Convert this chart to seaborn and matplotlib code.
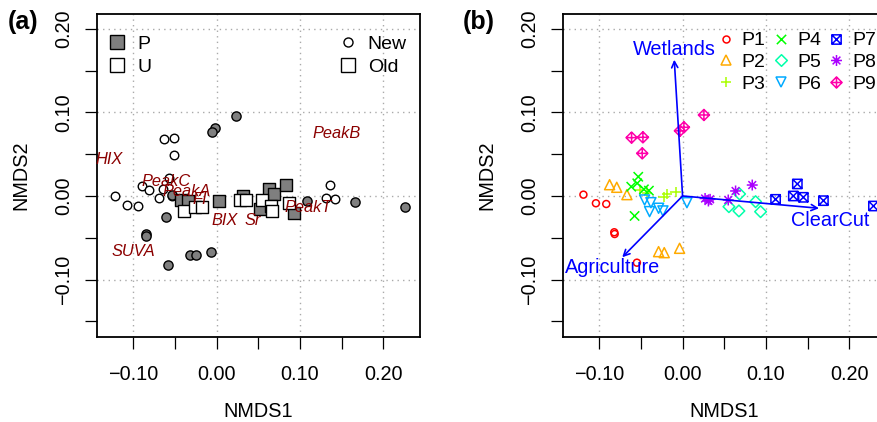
import numpy as np
import pandas as pd
import matplotlib
matplotlib.use("Agg")
import matplotlib.pyplot as plt
import seaborn as sns
from matplotlib.path import Path
from matplotlib.lines import Line2D
from matplotlib.ticker import FixedLocator, FuncFormatter

# ---------------- Panel (a) data ----------------
pnew_x = [0.0228, -0.0024, -0.0060, -0.0612, -0.0850, -0.0844, -0.0580, -0.0316, -0.0244, -0.0072, -0.0536, 0.1080, 0.1657, 0.2265]
pnew_y = [0.0953, 0.0810, 0.0766, -0.0251, -0.0450, -0.0475, -0.0830, -0.0706, -0.0706, -0.0674, 0.0010, -0.0056, -0.0070, -0.0135]
unew_x = [-0.0636, -0.0510, -0.0510, -0.1220, -0.1070, -0.0940, -0.0900, -0.0816, -0.0690, -0.0576, -0.0640, -0.0540, 0.1357, 0.1310, 0.1420]
unew_y = [0.0680, 0.0690, 0.0490, 0.0000, -0.0110, -0.0120, 0.0120, 0.0075, -0.0020, 0.0220, 0.0080, 0.0000, 0.0130, -0.0020, -0.0040]
pold_x = [-0.0430, -0.0340, 0.0030, 0.0316, 0.0516, 0.0630, 0.0688, 0.0830, 0.0930]
pold_y = [-0.0050, -0.0060, -0.0064, 0.0004, -0.0155, 0.0078, 0.0024, 0.0128, -0.0205]
uold_x = [-0.0390, -0.0264, -0.0180, 0.0284, 0.0356, 0.0544, 0.0656, 0.0660, 0.0868]
uold_y = [-0.0180, -0.0135, -0.0135, -0.0050, -0.0050, -0.0050, -0.0116, -0.0176, -0.0080]

var_names = ["HIX", "PeakB", "PeakC", "PeakA", "FI", "BIX", "Sr", "PeakT", "SUVA"]
var_x = [-0.1284, 0.1440, -0.0600, -0.0356, -0.0204, 0.0092, 0.0436, 0.1104, -0.0996]
var_y = [0.0440, 0.0750, 0.0171, 0.0052, -0.0048, -0.0295, -0.0295, -0.0132, -0.0666]

# ---------------- Panel (b) data ----------------
groups = ["P1", "P2", "P3", "P4", "P5", "P6", "P7", "P8", "P9"]
b_x = {
    "P1": [-0.1190, -0.1040, -0.0916, -0.0820, -0.0815, -0.0548],
    "P2": [-0.0876, -0.0790, -0.0668, -0.0288, -0.0220, -0.0036],
    "P3": [-0.0508, -0.0428, -0.0228, -0.0184, -0.0084],
    "P4": [-0.0532, -0.0544, -0.0616, -0.0464, -0.0404, -0.0576],
    "P5": [0.0684, 0.0556, 0.0676, 0.0876, 0.0936],
    "P6": [-0.0456, -0.0380, -0.0396, -0.0288, -0.0236, 0.0052],
    "P7": [0.1116, 0.1377, 0.1329, 0.1449, 0.1690, 0.2290],
    "P8": [0.0270, 0.0310, 0.0330, 0.0548, 0.0636, 0.0836],
    "P9": [-0.0612, -0.0476, -0.0484, -0.0032, 0.0016, 0.0256],
}
b_y = {
    "P1": [0.0016, -0.0087, -0.0096, -0.0434, -0.0455, -0.0798],
    "P2": [0.0135, 0.0104, 0.0016, -0.0666, -0.0678, -0.0626],
    "P3": [0.0072, 0.0040, -0.0016, 0.0020, 0.0050],
    "P4": [0.0230, 0.0152, 0.0111, 0.0080, 0.0064, -0.0239],
    "P5": [0.0024, -0.0128, -0.0179, -0.0068, -0.0188],
    "P6": [-0.0048, -0.0080, -0.0187, -0.0147, -0.0179, -0.0080],
    "P7": [-0.0040, 0.0144, 0.0000, -0.0016, -0.0056, -0.0120],
    "P8": [-0.0030, -0.0060, -0.0040, -0.0048, 0.0060, 0.0131],
    "P9": [0.0698, 0.0702, 0.0510, 0.0780, 0.0822, 0.0969],
}
group_colors = ["#FF0000", "#FFAA00", "#AAFF00", "#00FF00", "#00FFAA",
                "#00AAFF", "#0000FF", "#AA00FF", "#FF00AA"]

env_names = ["Wetlands", "Agriculture", "ClearCut"]
env_x = [-0.0100, -0.0724, 0.1637]
env_y = [0.1630, -0.0733, -0.0147]
env_lab_x = [-0.0104, -0.0844, 0.1777]
env_lab_y = [0.1755, -0.0850, -0.0295]

# ---------------- custom markers ----------------
M, L, C = Path.MOVETO, Path.LINETO, Path.CLOSEPOLY
plus_m = Path([(-1, 0), (1, 0), (0, -1), (0, 1)], [M, L, M, L])
x_m = Path([(-1, -1), (1, 1), (-1, 1), (1, -1)], [M, L, M, L])
diam_m = Path([(0, -1), (1, 0), (0, 1), (-1, 0), (0, -1)], [M, L, L, L, C])
sqx_m = Path([(-1, -1), (1, -1), (1, 1), (-1, 1), (-1, -1), (-1, -1), (1, 1), (-1, 1), (1, -1)],
             [M, L, L, L, C, M, L, M, L])
r = 0.7071
ast_m = Path([(-1, 0), (1, 0), (0, -1), (0, 1), (-r, -r), (r, r), (-r, r), (r, -r)],
             [M, L, M, L, M, L, M, L])
dplus_m = Path([(0, -1), (1, 0), (0, 1), (-1, 0), (0, -1), (-1, 0), (1, 0), (0, -1), (0, 1)],
               [M, L, L, L, C, M, L, M, L])
group_markers = ["o", "^", plus_m, x_m, diam_m, "v", sqx_m, ast_m, dplus_m]
group_sizes = [25, 52, 55, 45, 70, 52, 45, 62, 64]

# ---------------- style ----------------
sns.set_style("white")
plt.rcParams["font.family"] = ["Liberation Sans", "DejaVu Sans"]
plt.rcParams["axes.unicode_minus"] = True
for k in ["text.color", "axes.labelcolor", "xtick.color", "ytick.color"]:
    plt.rcParams[k] = "black"

FS = 14.3
W, H = 878, 422
fig = plt.figure(figsize=(W / 100, H / 100), dpi=100)
xlim = (-0.1435, 0.2441)
ylim = (-0.1687, 0.2177)


def add_axes(left_px):
    return fig.add_axes([left_px / W, (H - 337) / H, 323 / W, 323 / H])


def style_axes(ax):
    ax.set_xlim(*xlim)
    ax.set_ylim(*ylim)
    ax.xaxis.set_major_locator(FixedLocator([-0.1, 0.0, 0.1, 0.2]))
    ax.xaxis.set_minor_locator(FixedLocator([-0.05, 0.05, 0.15]))
    ax.yaxis.set_major_locator(FixedLocator([-0.1, 0.0, 0.1, 0.2]))
    ax.yaxis.set_minor_locator(FixedLocator([-0.15, -0.05, 0.05, 0.15]))
    fmt = FuncFormatter(lambda v, p: ("%.2f" % v).replace("-", "\u2212"))
    ax.xaxis.set_major_formatter(fmt)
    ax.yaxis.set_major_formatter(fmt)
    ax.tick_params(which="both", direction="out", length=8.5, width=0.9,
                   color="black", labelsize=FS, labelcolor="black", bottom=True, left=True)
    ax.tick_params(axis="x", which="major", pad=12)
    ax.tick_params(axis="y", which="major", pad=8.5, labelrotation=90)
    for lab in ax.get_yticklabels():
        lab.set_va("center")
    ax.grid(True, which="major", linestyle=(0, (1, 3)), color="#aaaaaa", linewidth=1.0)
    ax.set_axisbelow(True)
    for s in ax.spines.values():
        s.set_color("black")
        s.set_linewidth(1.3)
    ax.set_xlabel("NMDS1", fontsize=FS, color="black")
    ax.set_ylabel("NMDS2", fontsize=FS, color="black")
    ax.xaxis.set_label_coords(0.5, -0.2)
    ax.yaxis.set_label_coords(-0.205, 0.5)


# ---------------- Panel (a) ----------------
axa = add_axes(97)
style_axes(axa)
grey = "#7f7f7f"
sns.scatterplot(x=unew_x, y=unew_y, ax=axa, marker="o", s=38, facecolor="white",
                edgecolor="black", linewidth=1.0, zorder=3)
sns.scatterplot(x=pnew_x, y=pnew_y, ax=axa, marker="o", s=44, facecolor=grey,
                edgecolor="black", linewidth=1.0, zorder=3)
sns.scatterplot(x=pold_x, y=pold_y, ax=axa, marker="s", s=81, facecolor=grey,
                edgecolor="black", linewidth=1.0, zorder=4)
sns.scatterplot(x=uold_x, y=uold_y, ax=axa, marker="s", s=81, facecolor="white",
                edgecolor="black", linewidth=1.0, zorder=4)
for n, x, y in zip(var_names, var_x, var_y):
    axa.text(x, y, n, color="#8B0000", fontsize=11.8, fontstyle="italic",
             ha="center", va="center", zorder=6)

LFS = 14
h1 = [Line2D([], [], marker="s", linestyle="none", markersize=9.5, markerfacecolor=grey,
             markeredgecolor="black", markeredgewidth=1.0, label="P"),
      Line2D([], [], marker="s", linestyle="none", markersize=9.5, markerfacecolor="white",
             markeredgecolor="black", markeredgewidth=1.0, label="U")]
leg1 = axa.legend(handles=h1, loc="upper left", bbox_to_anchor=(0.041, 0.935), frameon=False,
                  fontsize=LFS, handlelength=0.7, handletextpad=0.68, labelspacing=0.28,
                  borderpad=0, borderaxespad=0)
axa.add_artist(leg1)
h2 = [Line2D([], [], marker="o", linestyle="none", markersize=6.5, markerfacecolor="white",
             markeredgecolor="black", markeredgewidth=1.0, label="New"),
      Line2D([], [], marker="s", linestyle="none", markersize=9.5, markerfacecolor="white",
             markeredgecolor="black", markeredgewidth=1.0, label="Old")]
axa.legend(handles=h2, loc="upper left", bbox_to_anchor=(0.755, 0.935), frameon=False,
           fontsize=LFS, handlelength=0.7, handletextpad=0.68, labelspacing=0.28,
           borderpad=0, borderaxespad=0)

# ---------------- Panel (b) ----------------
axb = add_axes(563)
style_axes(axb)
for g, c, m, s in zip(groups, group_colors, group_markers, group_sizes):
    sns.scatterplot(x=b_x[g], y=b_y[g], ax=axb, marker=m, s=s, facecolor="none",
                    edgecolor=c, linewidth=1.1, zorder=3)
for n, x, y, lx, ly in zip(env_names, env_x, env_y, env_lab_x, env_lab_y):
    axb.annotate("", xy=(x, y), xytext=(0, 0),
                 arrowprops=dict(arrowstyle="->", color="#0000FF", lw=1.2,
                                 mutation_scale=11, shrinkA=0, shrinkB=0), zorder=5)
    axb.text(lx, ly, n, color="#0000FF", fontsize=FS, ha="center", va="center", zorder=6)

hb = [Line2D([], [], marker=m, linestyle="none", markersize=np.sqrt(s),
             markerfacecolor="none", markeredgecolor=c, markeredgewidth=1.1, label=g)
      for g, c, m, s in zip(groups, group_colors, group_markers, group_sizes)]
axb.legend(handles=hb, ncol=3, loc="upper left", bbox_to_anchor=(0.4827, 0.945), frameon=False,
           fontsize=LFS, handlelength=0.7, handletextpad=0.48, labelspacing=0.21,
           columnspacing=0.43, borderpad=0, borderaxespad=0)

fig.text(8 / W, 1 - 22 / H, "(a)", fontsize=18, fontweight="bold", ha="left", va="center")
fig.text(463 / W, 1 - 22 / H, "(b)", fontsize=18, fontweight="bold", ha="left", va="center")

fig.savefig("out.png", dpi=100)
